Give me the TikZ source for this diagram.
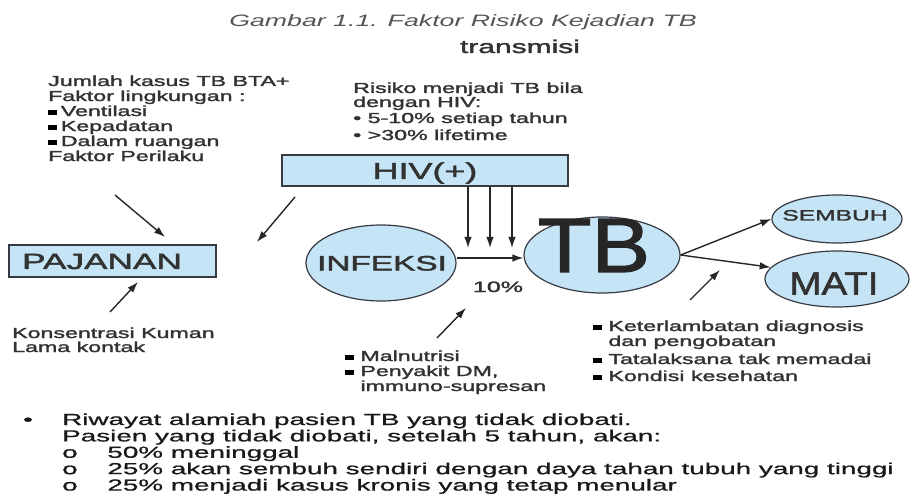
\documentclass[tikz,border=0pt]{standalone}
\usepackage{fontspec}
\usepackage{graphicx}
\setmainfont{Liberation Sans}
\newfontfamily\dfont[FakeBold=1.6]{Liberation Sans}
\newfontfamily\bfontl[FakeBold=0.8]{Liberation Sans}
\usetikzlibrary{arrows.meta,shapes.geometric}
\definecolor{lb}{RGB}{197,229,246}
\definecolor{bd}{RGB}{55,58,66}
\definecolor{tx}{RGB}{50,50,50}
\definecolor{ttl}{RGB}{85,85,85}
\newcommand\wt[3]{\scalebox{#2}[1]{\fontsize{#1pt}{#1pt}\selectfont #3}}
\newcommand\blk[4]{\scalebox{#2}[1]{\fontsize{#1pt}{#3pt}\selectfont\begin{tabular}[t]{@{}l@{}}#4\end{tabular}}}
\newcommand\sqb{{\color{black}\rule[0.1em]{0.38em}{0.32em}}}
\begin{document}
\begin{tikzpicture}[x=1pt,y=-1pt,
  box/.style={draw=bd,line width=1.2pt,fill=lb,inner sep=0pt},
  ell/.style={ellipse,draw=bd,line width=1.2pt,fill=lb,inner sep=0pt},
  arr/.style={draw=black!85,line width=1.4pt,-{Latex[length=11pt,width=7.5pt]}},
  lbl/.style={inner sep=0pt,text=tx,font=\dfont}]
\useasboundingbox (0,0) rectangle (914,500);
% titles
\node[lbl,anchor=base,text=ttl,font=\normalfont] (title) at (463,27) {\wt{16.5}{1.62}{\itshape Gambar 1.1. Faktor Risiko Kejadian TB}};
\node[lbl,anchor=base] (trans) at (520,53) {\wt{18.5}{1.62}{transmisi}};
% text blocks
\node[lbl,anchor=base west] (env) at (48,86) {\blk{14.5}{1.6}{15}{Jumlah kasus TB BTA+\\Faktor lingkungan :\\\sqb\,Ventilasi\\\sqb\,Kepadatan\\\sqb\,Dalam ruangan\\Faktor Perilaku}};
\node[lbl,anchor=base west] (risk) at (353,93) {\blk{14.5}{1.6}{15}{Risiko menjadi TB bila\\[-1pt]dengan HIV:\\[1pt]\textbullet\ 5-10\% setiap tahun\\[2pt]\textbullet\ >30\% lifetime}};
\node[lbl,anchor=base west] (kons) at (12,338) {\blk{14.5}{1.6}{15}{Konsentrasi Kuman\\[-1pt]Lama kontak}};
\node[lbl,anchor=base west] (maln) at (345,361) {\blk{14.5}{1.6}{15}{\sqb\ Malnutrisi\\\sqb\ Penyakit DM,\\\phantom{\sqb\ }immuno-supresan}};
\node[lbl,anchor=base west] (terl) at (593,331) {\blk{14.5}{1.6}{15}{\sqb\ Keterlambatan diagnosis\\\phantom{\sqb\ }dan pengobatan\\[3pt]\sqb\ Tatalaksana tak memadai\\[2pt]\sqb\ Kondisi kesehatan}};
% shapes
\node[box,minimum width=286pt,minimum height=31pt] (hiv) at (425,170.5) {};
\node[lbl,anchor=base] (hivt) at (425,179) {\wt{23}{1.56}{HIV(+)}};
\node[box,minimum width=207pt,minimum height=32pt] (paj) at (112.5,261) {};
\node[lbl,anchor=base] (pajt) at (102,269) {\wt{22}{1.6}{PAJANAN}};
\node[ell,minimum width=150pt,minimum height=76pt] (inf) at (381,263) {};
\node[lbl,anchor=base] (inft) at (382,270.5) {\wt{21}{1.59}{INFEKSI}};
\node[ell,minimum width=156pt,minimum height=76pt] (tb) at (602,255) {};
\node[lbl,anchor=base,text=black!85] (tbt) at (594,272) {\wt{77}{1.14}{TB}};
\node[ell,minimum width=130pt,minimum height=48pt] (sem) at (837,219) {};
\node[lbl,anchor=base] (semt) at (835,220.5) {\wt{15}{1.64}{SEMBUH}};
\node[ell,minimum width=144pt,minimum height=56pt] (mati) at (837,279) {};
\node[lbl,anchor=base] (matit) at (834,294.5) {\wt{32}{1.2}{MATI}};
\node[lbl,anchor=base] (pct) at (498,292) {\wt{15}{1.67}{10\%}};
% connectors
\coordinate (hy) at (0,258);
\draw[arr] (inf.east |- hy) -- (tb.west |- hy);
\coordinate (v1) at (468,248);
\coordinate (v2) at (490,248);
\coordinate (v3) at (512,248);
\draw[arr] (hiv.south -| v1) -- (v1);
\draw[arr] (hiv.south -| v2) -- (v2);
\draw[arr] (hiv.south -| v3) -- (v3);
\draw[arr] (tb.east) -- (sem.west);
\draw[arr] (tb.east) -- (mati.170);
\coordinate (a1s) at (115,195); \coordinate (a1e) at (165,237);
\coordinate (a2s) at (295,197); \coordinate (a2e) at (257,242);
\coordinate (a3s) at (110,312); \coordinate (a3e) at (138,282);
\coordinate (a4s) at (437,338); \coordinate (a4e) at (466,308);
\coordinate (a5s) at (690,300); \coordinate (a5e) at (720,270);
\draw[arr] (a1s) -- (a1e);
\draw[arr] (a2s) -- (a2e);
\draw[arr] (a3s) -- (a3e);
\draw[arr] (a4s) -- (a4e);
\draw[arr] (a5s) -- (a5e);
% bottom list
\node[lbl,anchor=base,text=black!90,font=\bfontl] (bul) at (28,425) {\wt{16}{1.72}{\textbullet}};
\node[lbl,anchor=base west,text=black!90,font=\bfontl] (hist) at (62,425) {\blk{16}{1.74}{16}{Riwayat alamiah pasien TB yang tidak diobati.\\Pasien yang tidak diobati, setelah 5 tahun, akan:\\\makebox[26pt][l]{o}50\% meninggal\\\makebox[26pt][l]{o}25\% akan sembuh sendiri dengan daya tahan tubuh yang tinggi\\\makebox[26pt][l]{o}25\% menjadi kasus kronis yang tetap menular}};
\end{tikzpicture}
\end{document}
